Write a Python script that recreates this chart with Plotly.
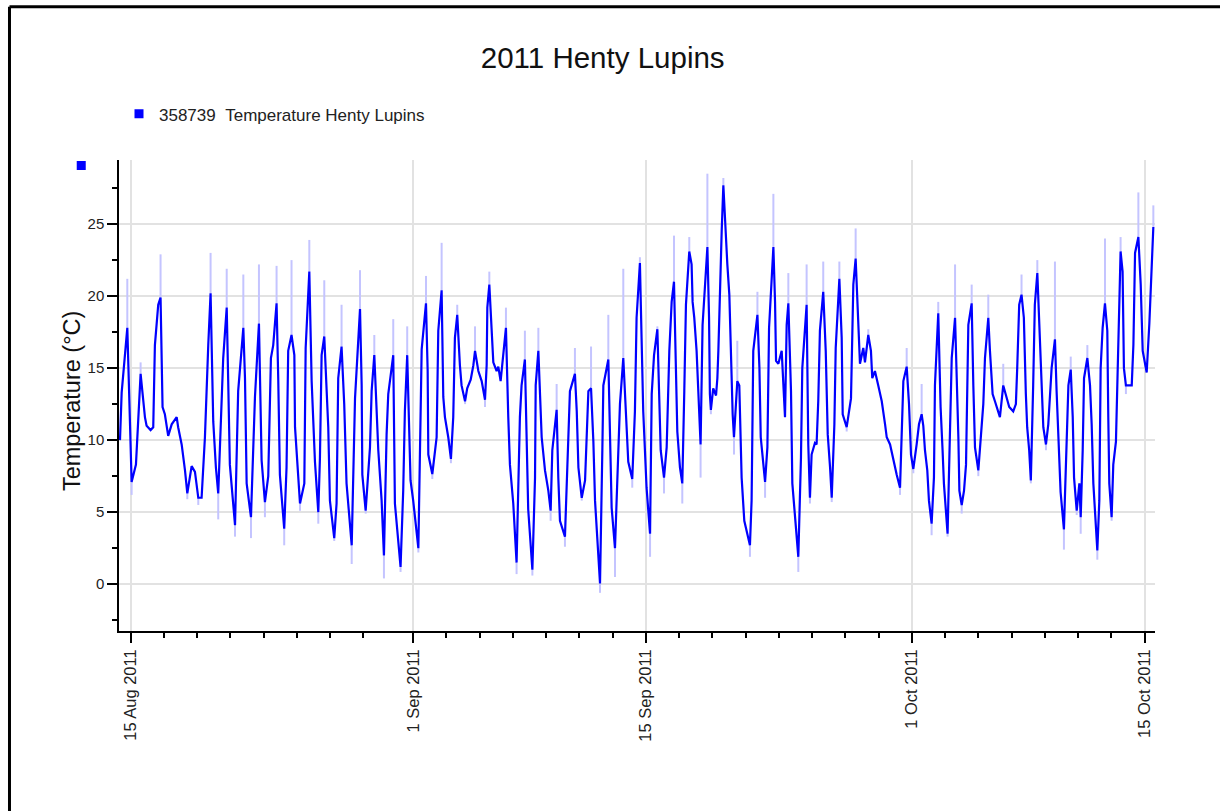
import pandas as pd
import plotly.graph_objects as go

# turning points: days since 15 Aug 2011 00:00
t_days = [
    -0.64, -0.54, -0.20, 0.06, 0.32, 0.60, 0.86, 0.96, 1.20, 1.36, 1.46, 1.66, 1.80, 1.87, 1.92,
    2.06, 2.26, 2.47, 2.77, 2.86, 3.07, 3.27, 3.41, 3.67, 3.87, 4.07, 4.27, 4.47, 4.57, 4.67,
    4.81, 4.97, 5.13, 5.27, 5.57, 5.78, 5.87, 5.97, 6.28, 6.47, 6.78,
    6.88, 6.98, 7.24, 7.48, 7.62, 7.72, 7.88, 8.08, 8.28, 8.44, 8.58, 8.78, 8.88, 8.98, 9.24,
    9.38, 9.48, 9.68, 9.85, 9.89, 10.19, 10.45, 10.53, 10.75, 10.89, 10.99, 11.09, 11.29, 11.39,
    11.49, 11.65, 11.89, 11.99, 12.25, 12.39, 12.49, 12.69, 12.85, 12.99, 13.30, 13.40, 13.50,
    13.80, 13.90, 13.94, 14.14, 14.40, 14.50, 14.66, 14.90, 15.10,
    15.24, 15.40, 15.50, 15.80, 15.90, 16.24, 16.40, 16.50, 16.64, 16.84, 17.00, 17.31, 17.41,
    17.51, 17.77, 17.87, 17.91, 18.15, 18.41, 18.51, 18.71, 18.81, 18.91, 19.11, 19.27, 19.41,
    19.51, 19.65, 19.81, 19.91, 20.12, 20.25, 20.46, 20.62, 20.72, 20.92, 21.12, 21.32, 21.42,
    21.46, 21.58, 21.72, 21.82, 22.02, 22.12, 22.26, 22.42, 22.58, 22.72, 22.82, 23.02, 23.22,
    23.42, 23.52, 23.72, 23.82, 23.92, 24.17, 24.33, 24.37, 24.53, 24.73, 24.93, 25.13, 25.27,
    25.37, 25.49, 25.63, 25.73, 25.83, 26.13, 26.33, 26.43, 26.73, 26.84, 26.94, 27.14, 27.34,
    27.44, 27.54, 27.70, 27.84, 27.94, 28.24, 28.38, 28.44, 28.74, 28.84, 28.94, 29.14, 29.30,
    29.44, 29.64, 29.84, 29.94, 30.18, 30.34, 30.44, 30.64, 30.74, 30.84, 31.04, 31.25,
    31.35, 31.49, 31.69, 31.81, 31.89, 32.09, 32.25, 32.41, 32.55, 32.69, 32.81, 32.89, 33.05,
    33.19, 33.31, 33.41, 33.61, 33.75, 33.81, 33.91, 34.05, 34.21, 34.29, 34.41, 34.70, 34.80,
    34.85, 34.91, 35.05, 35.22, 35.30, 35.36, 35.46, 35.56, 35.66, 35.82, 35.90, 36.02, 36.10,
    36.22, 36.30, 36.42, 36.50, 36.62, 36.76, 36.92, 37.26, 37.36, 37.46, 37.71, 37.83, 37.91,
    38.17, 38.31, 38.41, 38.67, 38.77, 38.83, 38.97, 39.17, 39.27, 39.37, 39.47, 39.57,
    39.73, 39.81, 40.17, 40.33, 40.41, 40.67, 40.77, 40.87, 40.97, 41.17, 41.27, 41.37, 41.47,
    41.67, 41.82, 41.94, 42.08, 42.18, 42.34, 42.42, 42.64, 42.78, 42.84, 43.08, 43.34, 43.48,
    43.62, 43.78, 43.88, 44.08, 44.18, 44.38, 44.54, 44.62, 44.78, 44.98, 45.19, 45.39, 45.49,
    45.69, 45.89, 46.09, 46.29, 46.39, 46.49, 46.69, 46.83, 46.95, 47.09, 47.29, 47.43, 47.59,
    47.69, 47.79, 47.93, 48.03, 48.19, 48.33, 48.39, 48.59, 48.73, 48.85, 48.93, 49.15, 49.30,
    49.40, 49.60, 49.74, 49.80, 49.86, 50.00, 50.14, 50.26, 50.40, 50.60, 50.70, 50.80, 51.00,
    51.14, 51.30, 51.40, 51.60, 51.70, 51.86, 52.00, 52.20, 52.30, 52.50, 52.70, 52.86, 53.10,
    53.26, 53.34, 53.46, 53.60, 53.74, 53.86, 53.94, 54.06, 54.16, 54.30, 54.40, 54.55, 54.71,
    54.81, 54.91, 55.07, 55.21, 55.41, 55.61,
    55.71, 55.87, 55.95, 56.15, 56.32, 56.42, 56.56, 56.68, 56.76, 56.92, 57.08, 57.16, 57.28,
    57.36, 57.56, 57.72, 57.82, 57.92, 58.16, 58.28, 58.36, 58.48, 58.62, 58.76, 58.82, 58.88,
    59.02, 59.12, 59.28, 59.38, 59.56, 59.68, 59.76, 59.88, 60.08, 60.23, 60.33, 60.43, 60.63,
    60.77, 60.89, 61.13, 61.29, 61.43, 61.53,
]

temp_c = [
    10.0, 13.3, 17.8, 7.1, 8.3, 14.6, 11.6, 11.0, 10.7, 10.9, 16.6, 19.4, 19.9, 16.2, 12.3,
    11.8, 10.3, 11.1, 11.6, 10.9, 9.7, 7.9, 6.3, 8.2, 7.8, 6.0, 6.0, 10.2, 13.8, 16.6,
    20.2, 11.3, 8.1, 6.3, 15.7, 19.2, 14.1, 8.3, 4.1, 13.4, 17.8,
    14.3, 7.0, 4.65, 13.0, 16.6, 18.1, 8.6, 5.7, 7.5, 15.7, 16.6, 19.5, 14.3, 7.6, 3.85,
    8.1, 16.2, 17.3, 15.9, 10.9, 5.6, 7.0, 16.4, 21.7, 14.1, 11.6, 8.5, 5.0, 8.8,
    15.9, 17.2, 10.9, 5.8, 3.2, 5.6, 14.3, 16.5, 12.5, 7.0, 2.7, 7.0, 12.9,
    19.1, 13.8, 7.6, 5.1, 9.5, 13.4, 15.9, 9.3, 5.8,
    2.0, 10.4, 13.2, 15.9, 5.6, 1.2, 6.5, 12.0, 15.9, 7.2, 5.8, 2.5, 11.3,
    16.3, 19.5, 14.8, 9.0, 7.65, 10.2, 17.6, 20.4, 13.0, 11.6, 10.2, 8.7, 11.6,
    17.1, 18.7, 15.2, 13.8, 12.7, 13.6, 14.2, 15.2, 16.2, 14.8, 14.1, 12.8, 15.2,
    19.2, 20.8, 17.6, 15.4, 14.8, 15.1, 14.1, 16.2, 17.8, 11.6, 8.3, 5.6, 1.5,
    11.6, 13.8, 15.6, 11.2, 5.2, 1.0, 7.4, 13.8, 16.2, 10.2, 7.9, 6.5, 5.1,
    9.3, 10.8, 12.1, 7.4, 4.4, 3.3, 10.4, 13.4, 14.6, 12.0, 8.1, 6.0, 7.2,
    10.2, 13.4, 13.6, 9.9, 5.8, 0.05, 9.3, 13.8, 15.6, 11.2, 5.3, 2.5, 7.8,
    12.5, 15.7, 11.3, 8.5, 7.3, 12.0, 18.5, 22.3, 17.1, 12.0, 6.7, 3.5,
    13.2, 15.9, 17.7, 13.0, 9.3, 7.4, 9.5, 16.2, 19.6, 21.0, 15.7, 10.6, 8.1,
    7.0, 13.4, 19.4, 23.1, 22.2, 19.6, 18.5, 16.2, 11.8, 9.7, 18.0, 23.4, 18.5,
    13.2, 12.1, 13.6, 13.1, 14.3, 16.2, 20.8, 24.5, 27.7, 23.3, 22.2, 20.1, 16.0,
    11.8, 10.2, 13.2, 14.1, 13.8, 7.4, 4.4, 2.7, 5.8, 16.2, 18.7, 15.0, 10.2,
    7.1, 9.5, 17.8, 23.4, 19.6, 15.5, 15.3, 16.2, 14.1, 11.6, 18.0, 19.5,
    13.4, 7.0, 1.9, 8.8, 15.0, 19.4, 9.7, 6.0, 9.0, 9.8, 9.7, 12.7, 17.6,
    20.3, 16.2, 10.4, 8.1, 6.0, 11.1, 16.4, 21.2, 17.1, 11.8, 10.9, 12.9, 20.8,
    22.6, 18.5, 15.3, 16.4, 15.4, 17.3, 16.2, 14.3, 14.8, 13.8, 12.7, 11.1, 10.2,
    9.7, 8.6, 7.6, 6.7, 10.2, 14.1, 15.1, 12.5, 9.0, 8.0, 9.7, 11.1, 11.8,
    11.0, 9.3, 7.9, 5.8, 4.2, 7.4, 13.8, 18.8, 12.3, 9.3, 7.0, 3.5, 10.2,
    15.7, 18.5, 13.4, 10.2, 6.5, 5.5, 6.5, 8.3, 18.0, 19.5, 13.8, 9.5, 7.9,
    9.9, 12.5, 15.7, 18.5, 16.2, 13.2, 12.7, 12.0, 11.6, 13.8, 12.9, 12.3, 12.0,
    12.5, 15.0, 19.4, 20.1, 18.5, 13.2, 10.9, 9.3, 7.2, 13.8, 19.4, 21.6, 17.1,
    13.8, 10.9, 9.7, 11.1, 15.0, 17.0,
    13.4, 9.0, 6.4, 3.8, 10.2, 13.8, 14.9, 11.6, 7.4, 5.1, 7.0, 4.65, 9.3,
    14.3, 15.7, 13.8, 11.1, 7.0, 2.35, 5.8, 15.0, 17.8, 19.5, 17.6, 11.6, 7.0,
    4.65, 8.3, 9.9, 15.0, 23.1, 21.7, 15.0, 13.8, 13.8, 13.8, 16.6, 23.0, 24.1,
    20.8, 16.2, 14.7, 18.1, 22.6, 24.8,
]

# raw extremes (light spikes) at the daily peaks / troughs, None where there is none
spike_c = [None] * len(t_days)
spike_pts = {
    -0.20: 21.2, 0.06: 6.2, 0.60: 15.4, 1.80: 22.9, 3.41: 5.9, 4.07: 5.5, 4.81: 23.0, 5.27: 4.5,
    5.78: 21.9, 6.28: 3.3, 6.78: 21.5, 7.24: 3.2, 7.72: 22.2, 8.08: 4.65, 8.78: 22.1, 9.24: 2.7,
    9.68: 22.5, 10.19: 5.1, 10.75: 23.9, 11.29: 4.2, 11.65: 21.1, 12.25: 3.0, 12.69: 19.4,
    13.30: 1.4, 13.80: 21.8, 14.14: 4.9, 14.66: 17.3, 15.24: 0.4, 15.80: 18.4, 16.24: 0.85,
    16.64: 17.9, 17.31: 2.2, 17.77: 21.4, 18.15: 7.3, 18.71: 23.7, 19.27: 8.4, 19.65: 19.4,
    20.12: 12.5, 20.72: 17.9, 21.32: 12.3, 21.58: 21.7, 22.58: 19.2, 23.22: 0.7, 23.72: 17.6,
    24.17: 0.6, 24.53: 17.8, 25.27: 4.4, 25.63: 13.9, 26.13: 2.6, 26.73: 16.4, 27.14: 5.8,
    27.70: 16.5, 28.24: -0.6, 28.74: 18.7, 29.14: 0.5, 29.64: 21.9, 30.18: 6.7, 30.64: 22.7,
    31.25: 1.9, 31.69: 17.9, 32.09: 6.3, 32.69: 24.2, 33.19: 5.6, 33.61: 24.1, 34.29: 7.4,
    34.70: 28.5, 34.91: 11.8, 35.66: 28.2, 36.30: 9.0, 36.50: 16.9, 37.26: 1.9, 37.71: 20.3,
    38.17: 6.0, 38.67: 27.1, 39.57: 21.6, 40.17: 0.85, 40.67: 22.2, 40.87: 5.6, 41.67: 22.4,
    42.18: 5.7, 42.64: 22.4, 43.08: 10.6, 43.62: 24.7, 44.38: 17.7, 46.29: 6.2, 46.69: 16.4,
    47.09: 7.7, 47.59: 13.9, 48.19: 3.4, 48.59: 19.6, 49.15: 3.3, 49.60: 22.2, 50.00: 4.9,
    50.60: 20.8, 51.00: 7.5, 51.60: 20.1, 52.50: 15.3, 53.60: 21.5, 54.16: 7.0, 54.55: 22.5,
    55.07: 9.3, 55.61: 22.4, 56.15: 2.4, 56.56: 15.8, 56.92: 4.8, 57.16: 3.5, 57.56: 16.6,
    58.16: 1.7, 58.62: 24.0, 59.02: 4.4, 59.56: 24.1, 59.88: 13.2, 60.63: 27.2, 61.53: 26.3,
}
for i, t in enumerate(t_days):
    if t in spike_pts:
        spike_c[i] = spike_pts[t]

major_dates = ['2011-08-15', '2011-09-01', '2011-09-15', '2011-10-01', '2011-10-15']
major_text = ['15 Aug 2011', '1 Sep 2011', '15 Sep 2011', '1 Oct 2011', '15 Oct 2011']
minor_dates = [
    '2011-08-17', '2011-08-19', '2011-08-21', '2011-08-23', '2011-08-25', '2011-08-27', '2011-08-29',
    '2011-09-03', '2011-09-05', '2011-09-07', '2011-09-09', '2011-09-11', '2011-09-13',
    '2011-09-17', '2011-09-19', '2011-09-21', '2011-09-23', '2011-09-25', '2011-09-27', '2011-09-29',
    '2011-10-03', '2011-10-05', '2011-10-07', '2011-10-09', '2011-10-11', '2011-10-13',
]
y_ticks = [0, 5, 10, 15, 20, 25]
y_minor = [-2.5, 2.5, 7.5, 12.5, 17.5, 22.5, 27.5]

base = pd.Timestamp('2011-08-15')
times = base + pd.to_timedelta(t_days, unit='D')

err_up = [s - v if s is not None and s > v else 0 for s, v in zip(spike_c, temp_c)]
err_dn = [v - s if s is not None and s < v else 0 for s, v in zip(spike_c, temp_c)]

FONT = 'Liberation Sans, Arial, sans-serif'

fig = go.Figure()

fig.add_trace(go.Scatter(
    x=times, y=temp_c,
    mode='lines',
    line=dict(color='#0000ff', width=2.2),
    error_y=dict(type='data', symmetric=False, array=err_up, arrayminus=err_dn,
                 color='#c4c4ff', thickness=2, width=0),
    showlegend=False,
    hoverinfo='skip'
))

# legend entry: marker only, like the original
fig.add_trace(go.Scatter(
    x=[None], y=[None], mode='markers',
    marker=dict(symbol='square', size=9, color='#0000ff'),
    name='358739\u00a0\u00a0Temperature Henty Lupins'
))

fig.update_layout(
    width=1220, height=811,
    margin=dict(l=119, r=65, t=160, b=180),
    paper_bgcolor='white', plot_bgcolor='white',
    font=dict(family=FONT, color='#222222', size=15),
    title=dict(text='2011 Henty Lupins', x=0.494, y=0.9285, xanchor='center', yanchor='middle',
               font=dict(family=FONT, size=29.5, color='#111111')),
    showlegend=True,
    legend=dict(x=0.0, y=1.097, xanchor='left', yanchor='middle', bgcolor='rgba(0,0,0,0)',
                font=dict(family=FONT, size=17, color='#222222')),
    xaxis=dict(
        type='date',
        range=[base + pd.Timedelta(days=-0.70), base + pd.Timedelta(days=61.63)],
        tickmode='array', tickvals=major_dates, ticktext=major_text, tickangle=-90,
        ticks='outside', ticklen=10, tickwidth=1.5, tickcolor='black',
        showline=True, linecolor='black', linewidth=1.5,
        showgrid=True, gridcolor='#e2e2e2', gridwidth=1.5, zeroline=False,
        minor=dict(tickmode='array', tickvals=minor_dates, ticks='outside', ticklen=5,
                   tickwidth=1.5, tickcolor='black', showgrid=False),
        tickfont=dict(family=FONT, size=16.5, color='#222222'),
    ),
    yaxis=dict(
        range=[-3.25, 29.45],
        tickmode='array', tickvals=y_ticks,
        ticks='outside', ticklen=10, tickwidth=1.5, tickcolor='black',
        showline=True, linecolor='black', linewidth=1.5,
        showgrid=True, gridcolor='#e2e2e2', gridwidth=1.5, zeroline=False,
        minor=dict(tickmode='array', tickvals=y_minor, ticks='outside', ticklen=5,
                   tickwidth=1.5, tickcolor='black', showgrid=False),
        tickfont=dict(family=FONT, size=15, color='#222222'),
    ),
    annotations=[dict(
        text='Temperature (\u00b0C)', x=-0.0454, y=0.488, xref='paper', yref='paper',
        textangle=-90, showarrow=False, xanchor='center', yanchor='middle',
        font=dict(family=FONT, size=23.5, color='#111111'))],
    shapes=[
        # outer frame (left and top edges)
        dict(type='line', xref='paper', yref='paper', x0=-0.1057, x1=-0.1057, y0=-0.45, y1=1.3255,
             line=dict(color='black', width=3)),
        dict(type='line', xref='paper', yref='paper', x0=-0.1057, x1=1.08, y0=1.3255, y1=1.3255,
             line=dict(color='black', width=3)),
        # small blue square next to the top of the value axis
        dict(type='rect', xref='paper', yref='paper', x0=-0.0408, x1=-0.0321, y0=0.9788, y1=0.9979,
             fillcolor='#0000ff', line=dict(width=0)),
    ],
)

fig.write_html("out.html", config={'displayModeBar': False},
               post_script="document.body.style.margin='0';")
